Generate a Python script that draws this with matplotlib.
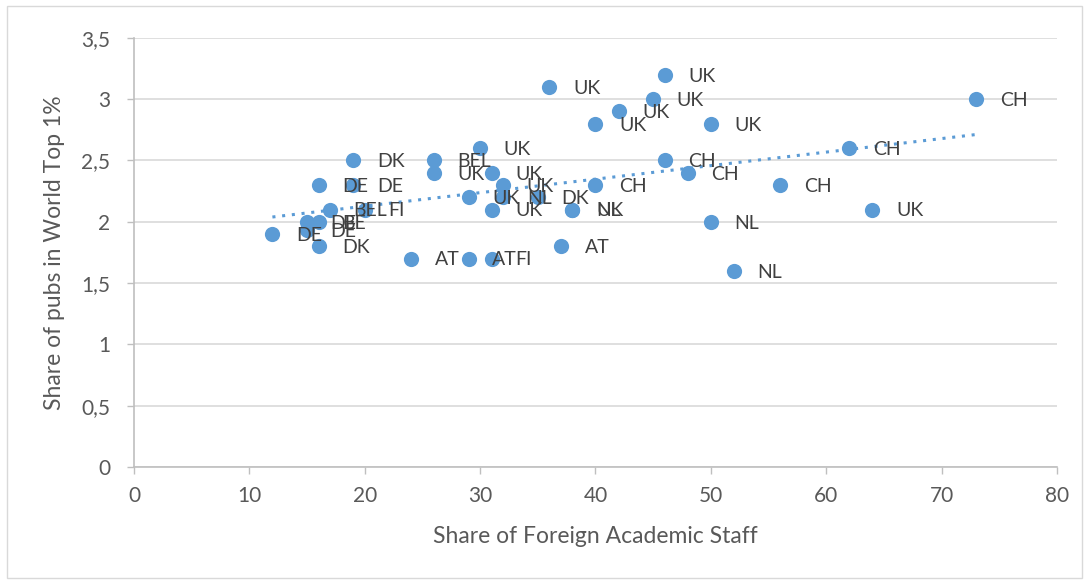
import numpy as np
import matplotlib.pyplot as plt
from matplotlib.ticker import FuncFormatter
from matplotlib.patches import Rectangle

# foreign staff share (%) / share of pubs in world top 1% / country
foreign_staff = [12, 15, 15, 16, 16, 16, 19, 19, 17, 20,
                 24, 26, 26, 29, 31, 29, 30, 31, 31, 32,
                 32, 35, 38, 38, 40, 37, 46, 48, 50, 52,
                 36, 46, 45, 42, 40, 50, 73, 62, 56, 64]
top1_share = [1.9, 1.93, 2.0, 2.0, 1.8, 2.3, 2.3, 2.5, 2.1, 2.1,
              1.7, 2.5, 2.4, 1.7, 1.7, 2.2, 2.6, 2.4, 2.1, 2.3,
              2.2, 2.2, 2.1, 2.1, 2.3, 1.8, 2.5, 2.4, 2.0, 1.6,
              3.1, 3.2, 3.0, 2.9, 2.8, 2.8, 3.0, 2.6, 2.3, 2.1]
country = ['DE', 'DE', 'DE', 'BE', 'DK', 'DE', 'DE', 'DK', 'BEL', 'FI',
           'AT', 'BEL', 'UK', 'AT', 'FI', 'UK', 'UK', 'UK', 'UK', 'UK',
           'NL', 'DK', 'NL', 'UK', 'CH', 'AT', 'CH', 'CH', 'NL', 'NL',
           'UK', 'UK', 'UK', 'UK', 'UK', 'UK', 'CH', 'CH', 'CH', 'UK']

x_ticks = [0, 10, 20, 30, 40, 50, 60, 70, 80]
y_ticks = [0, 0.5, 1, 1.5, 2, 2.5, 3, 3.5]

blue = '#5b9bd5'
txt = '#595959'
plt.rcParams['font.family'] = ['Lato', 'DejaVu Sans']

fig = plt.figure(figsize=(10.89, 5.83), dpi=100)
fig.patches.append(Rectangle((0.006, 0.008), 0.988, 0.982, transform=fig.transFigure,
                             fill=False, edgecolor='#d9d9d9', linewidth=1))
ax = fig.add_axes([0.123, 0.199, 0.8476, 0.736])

ax.scatter(foreign_staff, top1_share, s=120, color=blue, zorder=3, linewidths=0)

# linear trend line
xs = np.array(foreign_staff, dtype=float)
k, b = np.polyfit(xs, np.array(top1_share), 1)
xl = np.array([xs.min(), xs.max()])
ax.plot(xl, k * xl + b, linestyle=(0, (1, 2.2)), color=blue, linewidth=2.2, zorder=2)

for xv, yv, c in zip(foreign_staff, top1_share, country):
    ax.annotate(c, (xv, yv), xytext=(17, -1), textcoords='offset points',
                va='center', ha='left', fontsize=14, color='#404040', zorder=4)

ax.set_xlim(0, 80)
ax.set_ylim(0, 3.5)
ax.set_xticks(x_ticks)
ax.set_yticks(y_ticks)
ax.yaxis.set_major_formatter(FuncFormatter(lambda v, p: ('%g' % v).replace('.', ',')))
ax.grid(axis='y', color='#d9d9d9', linewidth=1.2)
ax.set_axisbelow(True)

for s in ['top', 'right']:
    ax.spines[s].set_visible(False)
for s in ['left', 'bottom']:
    ax.spines[s].set_color('#bfbfbf')
    ax.spines[s].set_linewidth(1.2)
ax.tick_params(colors='#bfbfbf', labelcolor=txt, labelsize=15, length=5, width=1)
ax.tick_params(axis='x', pad=9)
ax.tick_params(axis='y', pad=12)

ax.set_xlabel('Share of Foreign Academic Staff', fontsize=16.5, color=txt, labelpad=14)
ax.set_ylabel('Share of pubs in World Top 1%', fontsize=16.5, color=txt, labelpad=12)

fig.savefig('out.png', dpi=100)
